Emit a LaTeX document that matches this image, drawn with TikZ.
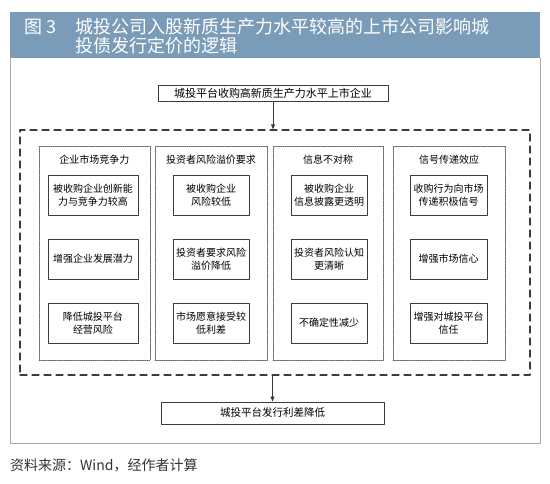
\documentclass[tikz,border=0pt]{standalone}
\usepackage{fontspec}
\setmainfont{Noto Sans CJK SC}
\usepackage{xcolor}
\usetikzlibrary{arrows.meta,calc}
\definecolor{bandblue}{HTML}{7A9CB8}
\definecolor{framegray}{HTML}{A8A8A8}
\definecolor{linegray}{HTML}{3C3C3C}

\begin{document}
\begin{tikzpicture}[x=1pt,y=-1pt,line cap=round,line join=round,>={Triangle[length=5pt,width=4pt]},
  solidbox/.style={draw=linegray,line width=0.9pt,fill=white,align=center,font=\fontsize{10}{13}\selectfont,inner sep=0pt},
  colbox/.style={draw=linegray!80,densely dotted,line width=0.8pt,minimum width=#1,minimum height=214,inner sep=0pt},
  heading/.style={font=\fontsize{10}{12}\selectfont,inner sep=0pt},
  flow/.style={->,draw=linegray,line width=0.8pt}]
\useasboundingbox (0,0) rectangle (550,483);
% title band and frame
\fill[bandblue] (10,12) rectangle (540,58);
\draw[framegray,line width=1pt] (10,58) -- (10,443) -- (540,443) -- (540,58);
\node[anchor=west,text=white,font=\fontsize{18}{20}\selectfont,inner sep=0pt] (fig) at (24,27) {图 3};
\node[anchor=west,text=white,font=\fontsize{18}{20}\selectfont,inner sep=0pt] (title) at (75,27)
  {城投公司入股新质生产力水平较高的上市公司影响城};
\node[anchor=west,text=white,font=\fontsize{18}{20}\selectfont,inner sep=0pt] (title2) at (75,46) {投债发行定价的逻辑};

% top and outer dashed box
\node[solidbox,minimum width=230,minimum height=16,font=\fontsize{11}{13}\selectfont] (acq) at (273,93) {城投平台收购高新质生产力水平上市企业};
\node[draw=linegray,dashed,dash pattern=on 7pt off 5pt,line width=1.3pt,minimum width=510,minimum height=245,inner sep=0pt] (mech) at (275,252.5) {};
\draw[flow] (acq.south) -- (acq.south |- mech.north);

% four channels
\node[colbox=111] (c1) at (94.5,253) {};
\node[colbox=112] (c2) at (211,253) {};
\node[colbox=110] (c3) at (328,253) {};
\node[colbox=112] (c4) at (449,253) {};
\node[heading] (h1) at (94.5,160) {企业市场竞争力};
\node[heading] (h2) at (211,160) {投资者风险溢价要求};
\node[heading] (h3) at (328,160) {信息不对称};
\node[heading] (h4) at (449,160) {信号传递效应};

% column 1
\node[solidbox,minimum width=90,minimum height=40] (a1) at (93,195) {被收购企业创新能\\力与竞争力较高};
\node[solidbox,minimum width=90,minimum height=40] (a2) at (93,259) {增强企业发展潜力};
\node[solidbox,minimum width=90,minimum height=40] (a3) at (93,323) {降低城投平台\\经营风险};
% column 2
\node[solidbox,minimum width=76,minimum height=40] (b1) at (211,195) {被收购企业\\风险较低};
\node[solidbox,minimum width=76,minimum height=40] (b2) at (211,259) {投资者要求风险\\溢价降低};
\node[solidbox,minimum width=76,minimum height=40] (b3) at (211,323) {市场愿意接受较\\低利差};
% column 3
\node[solidbox,minimum width=76,minimum height=40] (d1) at (329,195) {被收购企业\\信息披露更透明};
\node[solidbox,minimum width=76,minimum height=40] (d2) at (329,259) {投资者风险认知\\更清晰};
\node[solidbox,minimum width=76,minimum height=40] (d3) at (329,323) {不确定性减少};
% column 4
\node[solidbox,minimum width=77,minimum height=40] (e1) at (448.5,195) {收购行为向市场\\传递积极信号};
\node[solidbox,minimum width=77,minimum height=40] (e2) at (448.5,259) {增强市场信心};
\node[solidbox,minimum width=77,minimum height=40] (e3) at (448.5,323) {增强对城投平台\\信任};

% result
\node[solidbox,minimum width=223,minimum height=22,font=\fontsize{10.5}{13}\selectfont] (res) at (272.5,413) {城投平台发行利差降低};
\draw[flow] (mech.south -| res.north) -- (res.north);

% source
\node[anchor=west,text=black!80,font=\fontsize{14}{16}\selectfont,inner sep=0pt] (src) at (10,465) {资料来源：Wind，经作者计算};
\end{tikzpicture}
\end{document}
